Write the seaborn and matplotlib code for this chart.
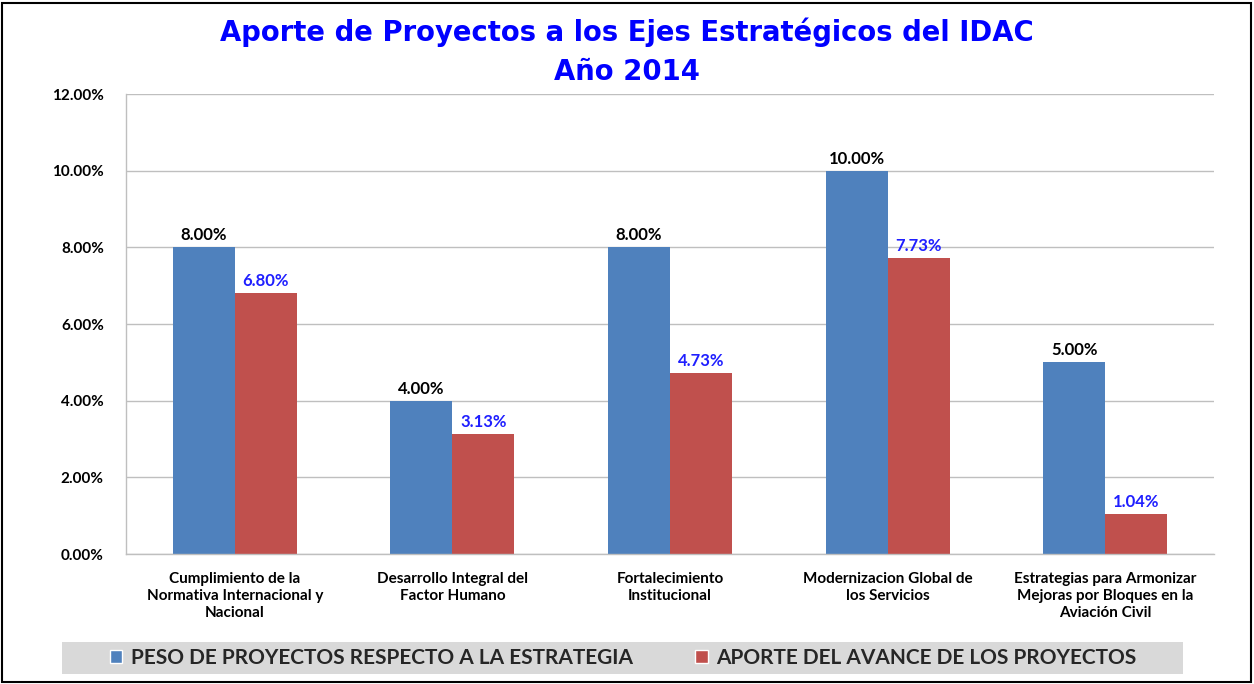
import pandas as pd
import numpy as np
import seaborn as sns
import matplotlib.pyplot as plt
from matplotlib.patches import Rectangle, Patch

categories = [
    "Cumplimiento de la\nNormativa Internacional y\nNacional",
    "Desarrollo Integral del\nFactor Humano",
    "Fortalecimiento\nInstitucional",
    "Modernizacion Global de\nlos Servicios",
    "Estrategias para Armonizar\nMejoras por Bloques en la\nAviación Civil",
]
series_names = ["PESO DE PROYECTOS RESPECTO A LA ESTRATEGIA",
                "APORTE DEL AVANCE DE LOS PROYECTOS"]
peso = [8.00, 4.00, 8.00, 10.00, 5.00]
aporte = [6.80, 3.13, 4.73, 7.73, 1.04]
yticks = [0, 2, 4, 6, 8, 10, 12]

colors = ["#4F81BD", "#C0504D"]
label_colors = ["black", "#1F1FFF"]

df = pd.DataFrame({
    "cat": categories * 2,
    "serie": [series_names[0]] * 5 + [series_names[1]] * 5,
    "valor": peso + aporte,
})

sns.set_theme(style="white")
plt.rcParams['font.family'] = ['Lato', 'DejaVu Sans']

fig = plt.figure(figsize=(12.54, 6.84), dpi=100)
W, H = 1254, 684
ax = fig.add_axes([126 / W, 1 - 554 / H, (1214 - 126) / W, (554 - 94) / H])

sns.barplot(data=df, x="cat", y="valor", hue="serie", palette=colors,
            width=0.57, saturation=1, ax=ax, legend=False, errorbar=None,
            linewidth=0)

for cont, lc in zip(ax.containers, label_colors):
    ax.bar_label(cont, labels=[f"{v:.2f}%" for v in cont.datavalues],
                 padding=3, color=lc, fontsize=12, fontweight="bold")

ax.set_ylim(0, 12)
ax.set_yticks(yticks)
ax.set_yticklabels([f"{v:.2f}%" for v in yticks], fontsize=11, fontweight="bold")
ax.set_xticklabels(categories, fontsize=11, fontweight="bold", linespacing=1.25)
ax.tick_params(axis="both", length=0, colors="black")
ax.tick_params(axis="x", pad=13)
ax.tick_params(axis="y", pad=16)
ax.set_xlabel("")
ax.set_ylabel("")
ax.yaxis.grid(True, color="#BFBFBF", linewidth=1)
ax.set_axisbelow(True)
for s in ["top", "right"]:
    ax.spines[s].set_visible(False)
for s in ["left", "bottom"]:
    ax.spines[s].set_color("#BFBFBF")
    ax.spines[s].set_linewidth(1)

fig.text(0.5, 1 - 52 / H, "Aporte de Proyectos a los Ejes Estratégicos del IDAC\nAño 2014",
         ha="center", va="center", color="#0000FF", fontsize=19.8, fontweight="bold",
         family="DejaVu Sans", linespacing=1.5)

# legend band
fig.patches.append(Rectangle((62 / W, 1 - 674 / H), (1183 - 62) / W, 32 / H,
                             transform=fig.transFigure, facecolor="#D9D9D9",
                             edgecolor="none", zorder=0))
handles = [Patch(facecolor=c, label=n) for c, n in zip(colors, series_names)]
fig.legend(handles=handles, loc="center", bbox_to_anchor=(623 / W, 1 - 658 / H),
           ncol=2, frameon=False, prop={"weight": "bold", "size": 15},
           handlelength=0.6, handleheight=0.6, handletextpad=0.4, columnspacing=3.0)

# outer frame
fig.patches.append(Rectangle((2 / W, 2 / H), 1249 / W, 679 / H, transform=fig.transFigure,
                             facecolor="none", edgecolor="black", linewidth=1.5))

fig.savefig("out.png", dpi=100)
